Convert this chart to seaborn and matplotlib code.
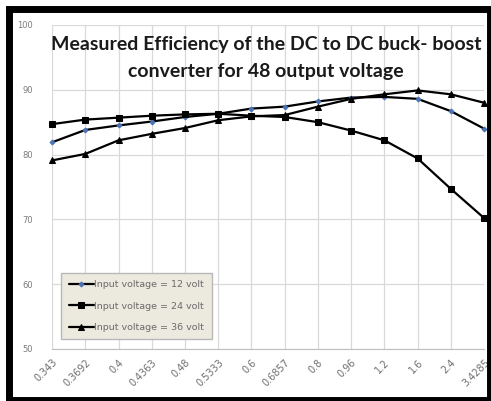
import matplotlib
matplotlib.use('Agg')
import pandas as pd
import seaborn as sns
import matplotlib.pyplot as plt
from matplotlib.patches import Rectangle
from matplotlib.ticker import MultipleLocator

# Data (efficiency %, per duty/ratio category)
categories = ["0.343", "0.3692", "0.4", "0.4363", "0.48", "0.5333", "0.6",
              "0.6857", "0.8", "0.96", "1.2", "1.6", "2.4", "3.4285"]
eff_12v = [81.9, 83.8, 84.5, 85.1, 85.8, 86.3, 87.1, 87.4, 88.2, 88.8, 88.9, 88.6, 86.7, 84.0]
eff_24v = [84.7, 85.4, 85.7, 86.0, 86.2, 86.3, 86.0, 85.8, 85.0, 83.7, 82.2, 79.4, 74.7, 70.2]
eff_36v = [79.1, 80.1, 82.2, 83.2, 84.1, 85.3, 85.9, 86.1, 87.4, 88.6, 89.3, 89.9, 89.3, 88.0]
series_names = ["Input voltage = 12 volt", "Input voltage = 24 volt", "Input voltage = 36 volt"]

sns.set_style("white")

fig = plt.figure(figsize=(4.91, 4.01), dpi=100)
ax = fig.add_axes([0.106, 0.1297, 0.880, 0.808])

pos = list(range(len(categories)))
styles = [
    (eff_12v, dict(marker="D", markersize=2.5, markerfacecolor="#4a74b4", markeredgecolor="#4a74b4")),
    (eff_24v, dict(marker="s", markersize=4.5, markerfacecolor="black", markeredgecolor="black")),
    (eff_36v, dict(marker="^", markersize=4, markerfacecolor="black", markeredgecolor="black")),
]
for (vals, kw), name in zip(styles, series_names):
    sns.lineplot(x=pos, y=vals, ax=ax, color="black", linewidth=1.6, label=name,
                 clip_on=False, zorder=5, **kw)

ax.set_xlim(0, len(categories) - 1)
ax.set_ylim(50, 100)
ax.set_xticks(pos)
ax.set_xticklabels(categories, rotation=45, ha="right", rotation_mode="anchor",
                   fontsize=7, color="#6e6e6e")
ax.xaxis.set_minor_locator(MultipleLocator(0.5))
ax.set_yticks(range(50, 101, 10))
ax.tick_params(axis="y", labelsize=6, labelcolor="#7a7a7a", length=0, pad=14)
ax.tick_params(axis="x", which="major", length=4, color="#c8c8c8", pad=2)
ax.tick_params(axis="x", which="minor", length=3, direction="in", color="#c8c8c8")
ax.grid(True, color="#d9d9d9", linewidth=0.9)
for s in ["top", "right", "left"]:
    ax.spines[s].set_visible(False)
ax.spines["bottom"].set_color("#bfbfbf")
ax.set_xlabel("")
ax.set_ylabel("")

ax.text(0.495, 0.965, "Measured Efficiency of the DC to DC buck- boost\nconverter for 48 output voltage",
        transform=ax.transAxes, ha="center", va="top", fontsize=14,
        fontweight="bold", family="Lato", color="#1a1a1a", linespacing=1.7)

leg = ax.legend(loc="lower left", bbox_to_anchor=(0.01, 0.015), fontsize=6.8,
                frameon=True, fancybox=False, handlelength=2.7, handletextpad=0.0,
                labelspacing=1.3, borderpad=0.8, labelcolor="#6a6a6a")
leg.get_frame().set_facecolor("#ece9df")
leg.get_frame().set_edgecolor("#b8b8b8")
leg.get_frame().set_alpha(1)

# thick black frame around the whole chart (cut off at right/bottom edge)
fig.patches.append(Rectangle((8.5 / 491, 1.0 / 401), 481 / 491, 391 / 401,
                             transform=fig.transFigure, fill=False,
                             edgecolor="black", linewidth=5.0))

fig.savefig("out.png", dpi=100)
